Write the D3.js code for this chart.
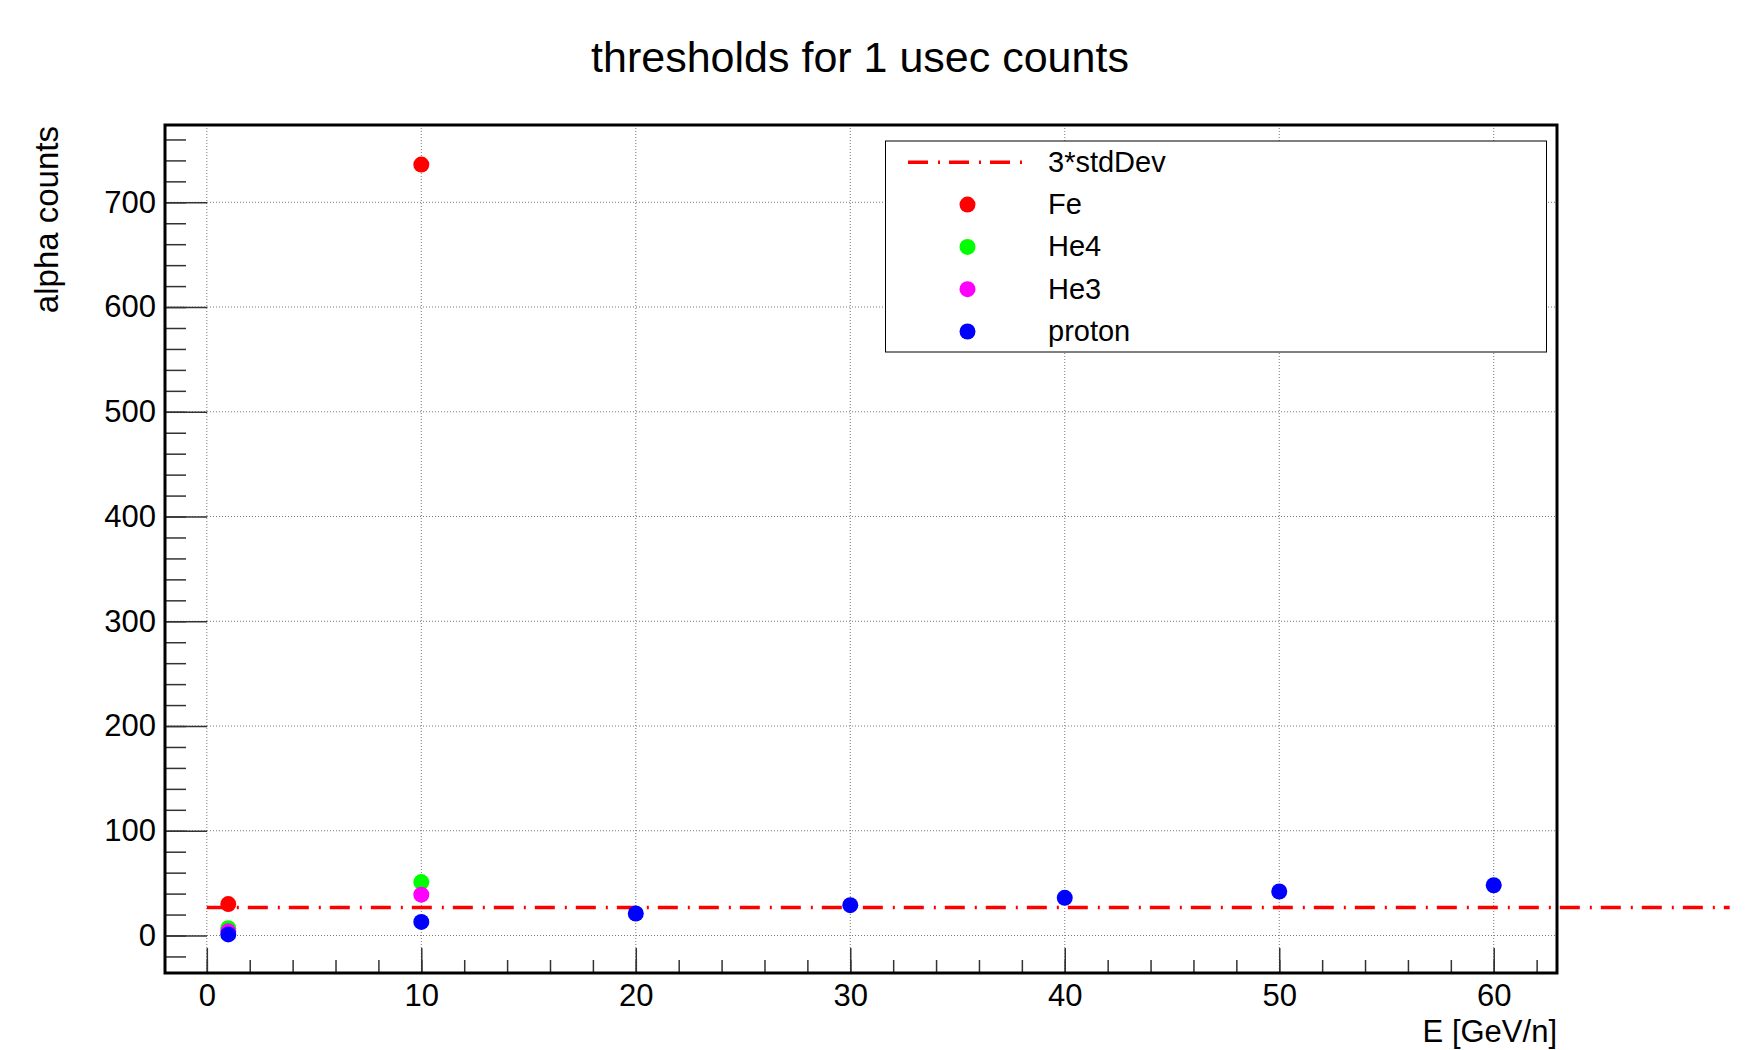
<!DOCTYPE html>
<html>
<head>
<meta charset="utf-8">
<script src="https://cdn.jsdelivr.net/npm/d3@7"></script>
<style>
  body { margin: 0; background: #fff; }
  svg { display: block; font-family: "Liberation Sans", Arial, sans-serif; }
</style>
</head>
<body>
<svg id="chart" width="1760" height="1050"></svg>
<script>
// --- Data ---
const speciesNames = ['Fe', 'He4', 'He3', 'proton'];
const speciesColors = ['#ff0000', '#00ff00', '#ff00ff', '#0000ff'];

const feEnergy = [1, 10];
const feCounts = [30, 736];
const he4Energy = [1, 10];
const he4Counts = [7, 51];
const he3Energy = [1, 10];
const he3Counts = [4, 39];
const protonEnergy = [1, 10, 20, 30, 40, 50, 60];
const protonCounts = [1, 13, 21, 29, 36, 42, 48];

const thresholdLabel = '3*stdDev';
const thresholdValue = 26.7;
const thresholdEnergy = [0, 71];

const xTickValues = [0, 10, 20, 30, 40, 50, 60];
const yTickValues = [0, 100, 200, 300, 400, 500, 600, 700];

// --- Layout ---
const frame = { left: 165, right: 1557, top: 125, bottom: 973 };
const svg = d3.select('#chart');

const x = d3.scaleLinear().domain([-1.95, 62.95]).range([frame.left, frame.right]);
const y = d3.scaleLinear().domain([-35.8, 773.8]).range([frame.bottom, frame.top]);

const series = [
  { energy: feEnergy, counts: feCounts },
  { energy: he4Energy, counts: he4Counts },
  { energy: he3Energy, counts: he3Counts },
  { energy: protonEnergy, counts: protonCounts }
];

const dashDot = '20,10,2,9';
const markerR = 8;

// grid (dotted)
const grid = svg.append('g').attr('stroke', '#777').attr('stroke-width', 1).attr('stroke-dasharray', '1,2');
xTickValues.forEach(v => {
  grid.append('line').attr('x1', x(v)).attr('x2', x(v)).attr('y1', frame.top).attr('y2', frame.bottom);
});
yTickValues.forEach(v => {
  grid.append('line').attr('x1', frame.left).attr('x2', frame.right).attr('y1', y(v)).attr('y2', y(v));
});

// threshold line (runs past the frame)
svg.append('line')
  .attr('x1', x(thresholdEnergy[0])).attr('x2', x(thresholdEnergy[1]))
  .attr('y1', y(thresholdValue)).attr('y2', y(thresholdValue))
  .attr('stroke', '#ff0000').attr('stroke-width', 3.5)
  .attr('stroke-dasharray', dashDot);

// markers
series.forEach((s, i) => {
  svg.append('g').selectAll('circle')
    .data(s.energy.map((e, j) => [e, s.counts[j]]))
    .join('circle')
    .attr('cx', d => x(d[0]))
    .attr('cy', d => y(d[1]))
    .attr('r', markerR)
    .attr('fill', speciesColors[i]);
});

// axes: major + minor ticks pointing inward
function styleAxis(g, size) {
  g.select('.domain').remove();
  g.selectAll('.tick line').attr('stroke', '#333').attr('stroke-width', 1.5);
  g.selectAll('.tick text').attr('font-size', size).attr('fill', '#000')
    .attr('font-family', '"Liberation Sans", Arial, sans-serif');
}

svg.append('g')
  .attr('transform', `translate(${frame.left},0)`)
  .call(d3.axisLeft(y).tickValues(d3.range(-20, 774, 20)).tickSize(-21).tickFormat(''))
  .call(g => styleAxis(g, 31));
svg.append('g')
  .attr('transform', `translate(${frame.left},0)`)
  .call(d3.axisLeft(y).tickValues(yTickValues).tickSize(-42).tickPadding(9).tickFormat(d3.format('d')))
  .call(g => styleAxis(g, 31));

svg.append('g')
  .attr('transform', `translate(0,${frame.bottom})`)
  .call(d3.axisBottom(x).tickValues(d3.range(0, 63, 2)).tickSize(-13).tickFormat(''))
  .call(g => styleAxis(g, 31));
svg.append('g')
  .attr('transform', `translate(0,${frame.bottom})`)
  .call(d3.axisBottom(x).tickValues(xTickValues).tickSize(-25).tickPadding(11).tickFormat(d3.format('d')))
  .call(g => styleAxis(g, 31));

// frame
svg.append('rect')
  .attr('x', frame.left).attr('y', frame.top)
  .attr('width', frame.right - frame.left).attr('height', frame.bottom - frame.top)
  .attr('fill', 'none').attr('stroke', '#000').attr('stroke-width', 3);

// titles
svg.append('text')
  .attr('x', 860).attr('y', 72)
  .attr('text-anchor', 'middle').attr('font-size', 43)
  .text('thresholds for 1 usec counts');

svg.append('text')
  .attr('transform', 'translate(58,126) rotate(-90)')
  .attr('text-anchor', 'end').attr('font-size', 33)
  .text('alpha counts');

svg.append('text')
  .attr('x', frame.right).attr('y', 1042)
  .attr('text-anchor', 'end').attr('font-size', 31)
  .text('E [GeV/n]');

// --- Legend ---
const legend = svg.append('g');
legend.append('rect')
  .attr('x', 885.5).attr('y', 141).attr('width', 661).attr('height', 211)
  .attr('fill', '#fff').attr('stroke', '#000').attr('stroke-width', 1);

const rowY = i => 162.3 + i * 42.3;

legend.append('line')
  .attr('x1', 908).attr('x2', 1024).attr('y1', rowY(0)).attr('y2', rowY(0))
  .attr('stroke', '#ff0000').attr('stroke-width', 3.5)
  .attr('stroke-dasharray', dashDot);
legend.append('text')
  .attr('x', 1048).attr('y', rowY(0) + 9.5).attr('font-size', 29)
  .text(thresholdLabel);

speciesNames.forEach((name, i) => {
  legend.append('circle')
    .attr('cx', 967.5).attr('cy', rowY(i + 1)).attr('r', markerR)
    .attr('fill', speciesColors[i]);
  legend.append('text')
    .attr('x', 1048).attr('y', rowY(i + 1) + 9.5).attr('font-size', 29)
    .text(name);
});
</script>
</body>
</html>
